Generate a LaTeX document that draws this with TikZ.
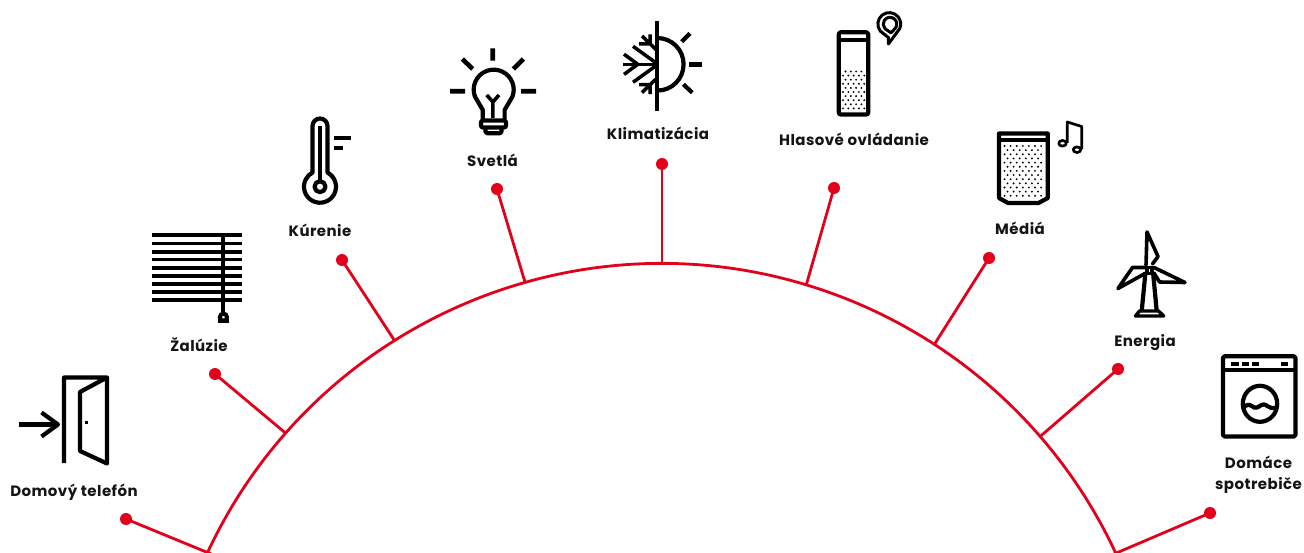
\documentclass[tikz,border=0pt]{standalone}
\usepackage{fontspec}
\setmainfont{Poppins}[BoldFont={Poppins Bold},BoldFeatures={LetterSpace=3}]
\definecolor{abbred}{HTML}{E2001A}
\definecolor{ink}{HTML}{000000}
\tikzset{
  wire/.style={abbred,line width=2.8pt},
  reddot/.style={circle,fill=abbred,minimum size=12pt,inner sep=0pt},
  lab/.style={font=\fontsize{15}{20.5}\selectfont\bfseries,text=black!92,align=center,inner sep=0pt,anchor=base},
  ico/.style={ink,line width=4.2pt,line join=round,line cap=butt},
  flake/.style={ink,line width=3.5pt,line join=round,line cap=butt},
  blade/.style={ink,line width=3.6pt,line join=round,line cap=round},
  thin ico/.style={ink,line width=3pt,line join=round},
}
\newcommand{\arcpt}[2]{\coordinate (#1) at ({661.5+501*cos(#2)},{764.5-501*sin(#2)});}
\begin{document}
\begin{tikzpicture}[x=1pt,y=-1pt]
\useasboundingbox (0,0) rectangle (1304,553);
% arc and connectors
\coordinate (f1) at (216,556);
\arcpt{f2}{138.6}
\arcpt{f3}{122.2}
\arcpt{f4}{105.8}
\coordinate (f5) at (662,263.5);
\arcpt{f6}{73.2}
\arcpt{f7}{57}
\arcpt{f8}{40.9}
\coordinate (f9) at (1107,557);
\arcpt{as}{158}
\draw[wire] (as) arc[start angle=158,end angle=22,radius=501pt];
\foreach \n/\x/\y in {1/126/519,2/215/374,3/342/260,4/497/189,5/662/164,6/834/188,7/989/258,8/1118/369,9/1210/513}{
  \node[reddot] (d\n) at (\x,\y) {};
  \draw[wire] (d\n.center) -- (f\n);
}
% labels
\node[lab] (l1) at (74,496.5) {Domový telefón};
\node[lab] (l2) at (199,351.5) {Žalúzie};
\node[lab] (l3) at (320,236.5) {Kúrenie};
\node[lab] (l4) at (492.5,166.5) {Svetlá};
\node[lab] (l5) at (658,139.5) {Klimatizácia};
\node[lab] (l6) at (854,145.5) {Hlasové ovládanie};
\node[lab] (l7) at (1020,234.5) {Médiá};
\node[lab] (l8) at (1145,346.5) {Energia};
\node[lab] (l9) at (1258.5,489) {Domáce\\spotrebiče};
% door
\draw[ico] (64,463) -- (64,377.5) -- (107,377.5) -- (107,463.5) -- (80,451) -- (80,392) -- (107,377.5);
\fill[ink] (84.5,420.5) rectangle (88.2,424.2);
\draw[ico] (19,424.5) -- (58,424.5);
\draw[ico] (41.5,412.5) -- (58,424.5) -- (41.5,436.5);
% blinds
\foreach \y/\w in {235/4,243.3/3.4,251.7/4,259.3/3.4,267.7/4,275.7/4,284/3.4,292/3.4,300.3/4}{
  \draw[ink,line width=\w pt] (152,\y) -- (242,\y);
}
\draw[ink,line width=3.8pt] (223.3,235) -- (223.3,312);
\draw[ink,line width=4pt] (223.4,317.2) circle[radius=3.6pt];
\fill[ink] (218,318.8) rectangle (228.8,322.8);
% thermometer
\draw[ico] (312.5,172.6) -- (312.5,126) arc[start angle=180,end angle=0,radius=7.5pt] -- (327.5,172.6)
  arc[start angle=62,end angle=-242,radius=16pt] -- cycle;
\draw[ico] (320,126) -- (320,181);
\draw[ico] (320,186.7) circle[radius=5.5pt];
\draw[ico] (334,137.7) -- (350.7,137.7);
\draw[ico] (334,148) -- (342.7,148);
% bulb
\draw[ico] (482.8,119.5) -- (482.8,110) -- (474.9,96.5) arc[start angle=200,end angle=-20,radius=20pt] -- (504.6,110) -- (504.6,119.5);
\draw[ico,rounded corners=2pt] (481,120.5) -- (506,120.5) -- (506,127.5) -- (481,127.5) -- cycle;
\draw[ico,rounded corners=1.5pt] (485.5,127.5) -- (485.5,133.2) -- (501.5,133.2) -- (501.5,127.5);
\draw[ink,line width=3.6pt] (492.9,118) -- (492.9,102) (486.7,95) -- (492.9,102) -- (499,95);
\draw[ink,line width=4.6pt] (492.7,48.3) -- (492.7,60.7) (462.3,59) -- (472.7,69) (523.3,59) -- (513.3,69) (450,91.3) -- (465,91.3) (521,91.3) -- (536,91.3);
% climate
\draw[ico] (657.3,21) -- (657.3,111);
\draw[ico] (657.3,38) arc[start angle=90,end angle=-90,radius=26.3pt];
\draw[ink,line width=4.6pt] (689.3,64.3) -- (701.7,64.3);
\draw[ico] (681.7,41.7) -- (690,33.3) (683.3,84.3) -- (692.3,92.7);
\draw[flake] (623,64.3) -- (657.3,64.3);
\draw[flake] (624,54.2) -- (637.8,64.3) -- (624,74.4);
\draw[flake] (633,46.3) -- (655.5,62.5) (633,82.3) -- (655.5,66.1);
\draw[flake] (642,36) -- (656,49.6) (639,44) -- (651.5,44) (650,34.5) -- (650,45);
\draw[flake] (642,92.6) -- (656,79) (639,84.6) -- (651.5,84.6) (650,94.1) -- (650,83.6);
% voice speaker
\draw[ico,rounded corners=2pt] (838.8,32.3) rectangle (868.2,114.5);
\draw[ico,line width=3.4pt] (838.5,40) -- (868.5,40);
\foreach \r in {0,...,9}{
  \pgfmathsetmacro{\yy}{71.5+\r*4.1}
  \pgfmathtruncatemacro{\even}{mod(\r,2)}
  \ifnum\even=0
    \foreach \c in {0,...,3}{\fill[ink] ({845.5+\c*5.3},\yy) circle[radius=1.05pt];}
  \else
    \foreach \c in {0,...,4}{\fill[ink] ({843+\c*5.3},\yy) circle[radius=1.05pt];}
  \fi
}
% pin
\draw[thin ico] (880.4,31.2) arc[start angle=219,end angle=-24,radius=11.4pt] -- (888.4,44) -- (888.4,37.5) -- cycle;
\draw[thin ico] (895.7,27.8) arc[start angle=-33,end angle=225,radius=6.8pt] -- (891,32.8) -- cycle;
% media speaker
\draw[ico] (999,133.5) -- (1047.8,133.5) -- (1047.8,198) -- (1038.5,203) -- (1008,203) -- (999,198) -- cycle;
\draw[ico,line width=3.4pt] (999,140) -- (1047.8,140);
\foreach \r in {0,...,12}{
  \pgfmathsetmacro{\yy}{146+\r*4.15}
  \pgfmathtruncatemacro{\even}{mod(\r,2)}
  \ifnum\even=0
    \foreach \c in {0,...,6}{\fill[ink] ({1004.5+\c*6.1},\yy) circle[radius=1.05pt];}
  \else
    \foreach \c in {0,...,5}{\fill[ink] ({1007.5+\c*6.1},\yy) circle[radius=1.05pt];}
  \fi
}
% note
\draw[thin ico,line width=2.7pt] (1067.3,143) -- (1067.3,122) -- (1081.7,126.5) -- (1081.7,149.5);
\draw[thin ico,line width=2.7pt] (1062.5,143.3) ellipse[x radius=3.8pt,y radius=2.8pt];
\draw[thin ico,line width=2.7pt] (1077,149.7) ellipse[x radius=3.8pt,y radius=2.8pt];
% turbine
\draw[blade] (1146,265) -- (1147,232) -- (1158,256.5) -- (1152.5,264);
\draw[blade] (1145,267.5) -- (1132.5,267.5) -- (1118,288.5) -- (1145,273.5);
\draw[blade] (1154,267.5) -- (1185,282.5) -- (1159.5,282) -- (1154,273);
\draw[ico] (1145.5,272) -- (1141.8,310) (1153,272) -- (1156.6,310);
\draw[ink,line width=3.4pt] (1146.8,267.8) rectangle (1151.8,273.5);
\draw[ink,line width=3.4pt,line join=round] (1139.5,311) -- (1158.5,311) -- (1163.7,316) -- (1135.5,316) -- cycle;
% washer
\draw[ico,rounded corners=1.5pt] (1223,356.3) rectangle (1295.5,436.5);
\draw[ico] (1223,370) -- (1295.5,370);
\foreach \a/\b in {1230.7/1239.3,1241.7/1249.3,1251.7/1259.3,1281/1288.3}{
  \fill[ink] (\a,361.5) rectangle (\b,365.5);
}
\draw[ico] (1260,403.8) ellipse[x radius=17.2pt,y radius=18pt];
\draw[ico] (1243,408) .. controls (1246,404.5) and (1249.5,404) .. (1252,406.2) .. controls (1255,408.5) and (1257.5,408) .. (1260,405.7) .. controls (1262.5,403.8) and (1265,404) .. (1267.5,406.2) .. controls (1270,408.5) and (1273,408.5) .. (1277,407.5);
\end{tikzpicture}
\end{document}
